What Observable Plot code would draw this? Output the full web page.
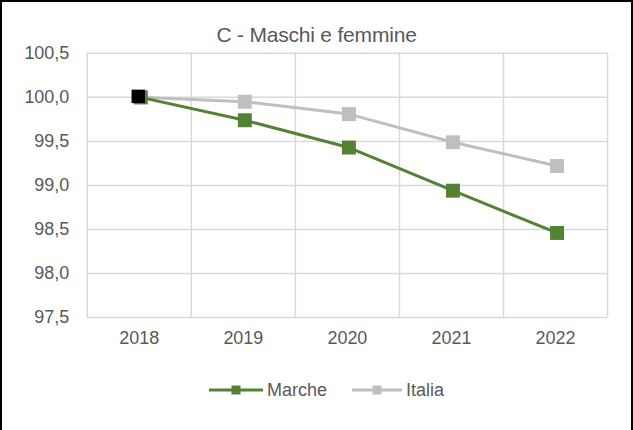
<!DOCTYPE html>
<html>
<head>
<meta charset="utf-8">
<script src="https://cdn.jsdelivr.net/npm/d3@7"></script>
<script src="https://cdn.jsdelivr.net/npm/@observablehq/plot@0.6"></script>
<style>
  html, body { margin: 0; padding: 0; background: #fff; }
  #frame {
    position: relative; width: 633px; height: 430px; box-sizing: border-box;
    border-left: 2px solid #000; border-top: 2px solid #000; border-right: 2px solid #000;
    font-family: "Liberation Sans", Arial, sans-serif; color: #595959; overflow: hidden;
  }
  #title { position: absolute; left: 0; width: 629px; top: 21px; text-align: center; font-size: 21px; letter-spacing: -0.2px; color: #595959; line-height: normal; }
  #chart { position: absolute; left: -2px; top: -2px; }
  #legend { position: absolute; top: 376px; left: 0; width: 629px; height: 24px; font-size: 18px; }
  .item { position: absolute; top: 0; display: flex; align-items: center; height: 24px; }
  .item svg { display: block; margin-right: 3px; }
</style>
</head>
<body>
<div id="frame">
  <div id="title">C - Maschi e femmine</div>
  <div id="chart"></div>
  <div id="legend"></div>
</div>
<script>
const years = [2018, 2019, 2020, 2021, 2022];
const marche = [100.0, 99.74, 99.43, 98.94, 98.46];
const italia = [100.0, 99.95, 99.81, 99.49, 99.22];
const yTicks = [97.5, 98.0, 98.5, 99.0, 99.5, 100.0, 100.5];
const seriesNames = ["Marche", "Italia"];
const colors = ["#548235", "#BFBFBF"];

const rows = [];
years.forEach((yr, i) => {
  rows.push({i, year: yr, value: marche[i], series: "Marche"});
  rows.push({i, year: yr, value: italia[i], series: "Italia"});
});
const marcheRows = rows.filter(d => d.series === "Marche");
const italiaRows = rows.filter(d => d.series === "Italia");
const bounds = d3.range(years.length + 1).map(k => k - 0.5);
const fmt = v => d3.format(".1f")(v).replace(".", ",");

const chart = Plot.plot({
  width: 633,
  height: 360,
  marginLeft: 87,
  marginRight: 24,
  marginTop: 53,
  marginBottom: 42,
  style: { fontFamily: "Liberation Sans, Arial, sans-serif", fontSize: "18px", color: "#595959", background: "transparent" },
  x: { type: "linear", domain: [-0.5, years.length - 0.5], axis: null },
  y: { domain: [97.5, 100.5], axis: null },
  marks: [
    Plot.ruleY(yTicks, { stroke: "#D9D9D9", strokeWidth: 1.5 }),
    Plot.ruleX(bounds, { stroke: "#D9D9D9", strokeWidth: 1.5 }),
    Plot.text(yTicks, { x: -0.5, y: d => d, text: fmt, textAnchor: "end", dx: -18, fill: "#595959", fontSize: 18 }),
    Plot.text(years, { x: (d, i) => i, y: 97.5, text: d => String(d), dy: 21, fill: "#595959", fontSize: 18 }),
    Plot.line(italiaRows, { x: "i", y: "value", stroke: colors[1], strokeWidth: 3, dx: 1.5 }),
    Plot.dot(italiaRows, { x: "i", y: "value", symbol: "square", r: 7.9, fill: colors[1], stroke: "none", dx: 1.5 }),
    Plot.line(marcheRows, { x: "i", y: "value", stroke: colors[0], strokeWidth: 3, dx: 1.5 }),
    Plot.dot(marcheRows, { x: "i", y: "value", symbol: "square", r: 7.9, fill: colors[0], stroke: "none", dx: 1.5 }),
    Plot.dot(marcheRows.slice(0, 1), { x: "i", y: "value", symbol: "square", r: 7.6, fill: "#000", stroke: "none", dx: -1, dy: -1 })
  ]
});
document.getElementById("chart").appendChild(chart);

// legend
const legend = document.getElementById("legend");
const lefts = [206, 349];
const lineW = [56, 52];
seriesNames.forEach((name, k) => {
  const item = document.createElement("div");
  item.className = "item";
  item.style.left = lefts[k] + "px";
  const w = lineW[k];
  const svg = d3.create("svg").attr("width", w).attr("height", 24);
  svg.append("line").attr("x1", 1).attr("x2", w - 1).attr("y1", 12).attr("y2", 12)
    .attr("stroke", colors[k]).attr("stroke-width", 3);
  svg.append("rect").attr("x", w / 2 - 4.5).attr("y", 7.5).attr("width", 9).attr("height", 9).attr("fill", colors[k]);
  item.appendChild(svg.node());
  const span = document.createElement("span");
  span.textContent = name;
  item.appendChild(span);
  legend.appendChild(item);
});
</script>
</body>
</html>
